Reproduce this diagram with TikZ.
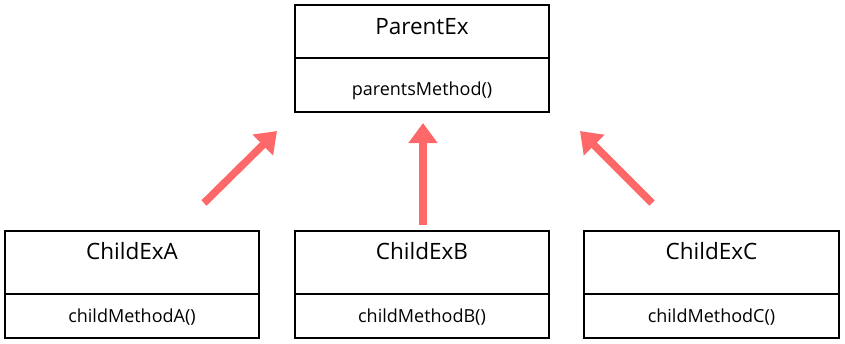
\documentclass[tikz,border=0pt]{standalone}
\usepackage{fontspec}
\setmainfont{Open Sans}
\usetikzlibrary{arrows.meta}
\definecolor{arrowred}{RGB}{255,104,104}
\tikzset{
  comp/.style={draw=black, line width=1.2pt, inner sep=0pt, minimum width=254pt},
  titletext/.style={anchor=base, inner sep=0pt, font=\fontsize{22.5}{26}\selectfont},
  methtext/.style={anchor=base, inner sep=0pt, font=\fontsize{18}{22}\selectfont},
  inherit/.style={draw=arrowred, line width=7.5pt, -{Triangle[width=28pt,length=20pt]}}
}
\begin{document}
\begin{tikzpicture}[x=1pt,y=-1pt]
\useasboundingbox (0,0) rectangle (845,343);
% Parent
\node[comp, minimum height=53pt] (pt) at (422,31.5) {};
\node[comp, minimum height=54pt] (pb) at (422,85) {};
\node[titletext] (ptl) at (422,34) {ParentEx};
\node[methtext] (pml) at (422,95) {parentsMethod()};
% Child A
\node[comp, minimum height=63pt] (at) at (132,262.5) {};
\node[comp, minimum height=44pt] (ab) at (132,316) {};
\node[titletext] (atl) at (132,259) {ChildExA};
\node[methtext] (aml) at (132,322) {childMethodA()};
% Child B
\node[comp, minimum height=63pt] (bt) at (422,262.5) {};
\node[comp, minimum height=44pt] (bb) at (422,316) {};
\node[titletext] (btl) at (422,259) {ChildExB};
\node[methtext] (bml) at (422,322) {childMethodB()};
% Child C
\node[comp, minimum height=63pt, minimum width=255pt] (ct) at (711.5,262.5) {};
\node[comp, minimum height=44pt, minimum width=255pt] (cb) at (711.5,316) {};
\node[titletext] (ctl) at (711.5,259) {ChildExC};
\node[methtext] (cml) at (711.5,322) {childMethodC()};
% Arrows
\coordinate (as) at (204,203);
\coordinate (ae) at (277,131);
\coordinate (bs) at (423,225);
\coordinate (be) at (423,123);
\coordinate (cs) at (652,203);
\coordinate (ce) at (580,131);
\draw[inherit] (as) -- (ae);
\draw[inherit] (bs) -- (be);
\draw[inherit] (cs) -- (ce);
\end{tikzpicture}
\end{document}
